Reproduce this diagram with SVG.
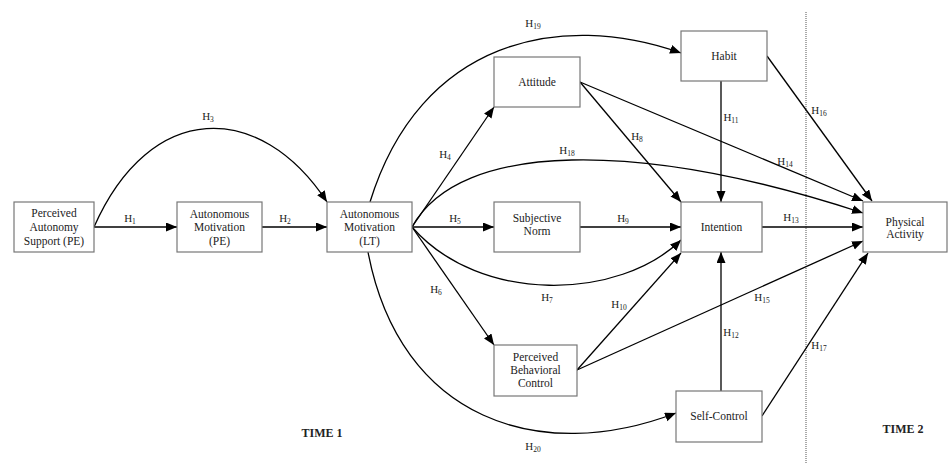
<svg xmlns="http://www.w3.org/2000/svg" width="949" height="464" viewBox="0 0 949 464">
<defs>
<marker id="arr" markerUnits="userSpaceOnUse" markerWidth="12" markerHeight="10" refX="11" refY="4.5" orient="auto">
<path d="M0,0 L11,4.5 L0,9 z" fill="#000"/>
</marker>
<style>
.box{fill:#fff;stroke:#777;stroke-width:1.2}
text{font-family:'Liberation Serif','DejaVu Serif','Times New Roman',serif;fill:#222;text-anchor:middle}
.t{font-size:11.5px}
.l{font-size:11px}
.s{font-size:7.5px}
.c{fill:none;stroke:#000;stroke-width:1.3}
.a{marker-end:url(#arr)}
.time{font-size:12px;font-weight:bold}
</style>
</defs>
<rect width="949" height="464" fill="#fff"/>
<line x1="806" y1="12" x2="806" y2="464" stroke="#555" stroke-width="1" stroke-dasharray="1,1"/>

<g id="connectors">
<path class="c a" d="M94,227 L177,227"/>
<path class="c a" d="M262,227 L327,227"/>
<path class="c a" d="M94,227 C150,100 260,100 327,202"/>
<path class="c a" d="M412,227 L494,107"/>
<path class="c a" d="M412,227 L494,227"/>
<path class="c a" d="M412,227 L494,345"/>
<path class="c a" d="M412,227 C480,305 620,300 681,240"/>
<path class="c a" d="M580,82 L681,202"/>
<path class="c a" d="M580,227 L681,227"/>
<path class="c a" d="M577,370 L681,253"/>
<path class="c a" d="M721,81 L721,202"/>
<path class="c a" d="M721,391 L721,252"/>
<path class="c a" d="M762,227 L863,227"/>
<path class="c a" d="M580,82 L863,201"/>
<path class="c a" d="M577,370 L863,241"/>
<path class="c a" d="M767,56 L872,201"/>
<path class="c a" d="M762,416 L868,253"/>
<path class="c a" d="M412,227 C460,140 640,140 863,213"/>
<path class="c a" d="M370,202 C420,40 560,10 681,53"/>
<path class="c a" d="M368,252 C400,420 540,465 676,413"/>
</g>

<g id="labels">
<text class="l" x="130" y="222">H<tspan class="s" dy="2">1</tspan></text>
<text class="l" x="285" y="222">H<tspan class="s" dy="2">2</tspan></text>
<text class="l" x="208" y="120">H<tspan class="s" dy="2">3</tspan></text>
<text class="l" x="445" y="158">H<tspan class="s" dy="2">4</tspan></text>
<text class="l" x="455" y="222">H<tspan class="s" dy="2">5</tspan></text>
<text class="l" x="436" y="293">H<tspan class="s" dy="2">6</tspan></text>
<text class="l" x="547" y="301">H<tspan class="s" dy="2">7</tspan></text>
<text class="l" x="637" y="140">H<tspan class="s" dy="2">8</tspan></text>
<text class="l" x="623" y="222">H<tspan class="s" dy="2">9</tspan></text>
<text class="l" x="619" y="308">H<tspan class="s" dy="2">10</tspan></text>
<text class="l" x="731" y="121">H<tspan class="s" dy="2">11</tspan></text>
<text class="l" x="731" y="336">H<tspan class="s" dy="2">12</tspan></text>
<text class="l" x="791" y="221">H<tspan class="s" dy="2">13</tspan></text>
<text class="l" x="785" y="165">H<tspan class="s" dy="2">14</tspan></text>
<text class="l" x="762" y="301">H<tspan class="s" dy="2">15</tspan></text>
<text class="l" x="819" y="114">H<tspan class="s" dy="2">16</tspan></text>
<text class="l" x="819" y="349">H<tspan class="s" dy="2">17</tspan></text>
<text class="l" x="567" y="154">H<tspan class="s" dy="2">18</tspan></text>
<text class="l" x="533" y="27">H<tspan class="s" dy="2">19</tspan></text>
<text class="l" x="533" y="450">H<tspan class="s" dy="2">20</tspan></text>
</g>

<g id="pas">
<rect class="box" x="14" y="202" width="80" height="50"/>
<text class="t" x="54" y="217">Perceived</text>
<text class="t" x="54" y="231">Autonomy</text>
<text class="t" x="54" y="245">Support (PE)</text>
</g>
<g id="ampe">
<rect class="box" x="177" y="202" width="85" height="50"/>
<text class="t" x="219.5" y="218">Autonomous</text>
<text class="t" x="219.5" y="231">Motivation</text>
<text class="t" x="219.5" y="245">(PE)</text>
</g>
<g id="amlt">
<rect class="box" x="327" y="202" width="85" height="50"/>
<text class="t" x="369.5" y="218">Autonomous</text>
<text class="t" x="369.5" y="231">Motivation</text>
<text class="t" x="369.5" y="245">(LT)</text>
</g>
<g id="attitude">
<rect class="box" x="494" y="57" width="86" height="50"/>
<text class="t" x="537" y="86">Attitude</text>
</g>
<g id="norm">
<rect class="box" x="494" y="202" width="86" height="50"/>
<text class="t" x="537" y="222">Subjective</text>
<text class="t" x="537" y="235">Norm</text>
</g>
<g id="pbc">
<rect class="box" x="494" y="345" width="83" height="51"/>
<text class="t" x="535.5" y="361">Perceived</text>
<text class="t" x="535.5" y="374">Behavioral</text>
<text class="t" x="535.5" y="387">Control</text>
</g>
<g id="habit">
<rect class="box" x="681" y="31" width="86" height="50"/>
<text class="t" x="724" y="60">Habit</text>
</g>
<g id="intention">
<rect class="box" x="681" y="202" width="81" height="50"/>
<text class="t" x="721.5" y="231">Intention</text>
</g>
<g id="selfcontrol">
<rect class="box" x="676" y="391" width="86" height="51"/>
<text class="t" x="719" y="420">Self-Control</text>
</g>
<g id="pa">
<rect class="box" x="863" y="202" width="84" height="50"/>
<text class="t" x="905" y="226">Physical</text>
<text class="t" x="905" y="238">Activity</text>
</g>

<text class="time" x="322" y="437">TIME 1</text>
<text class="time" x="903" y="433">TIME 2</text>
</svg>
